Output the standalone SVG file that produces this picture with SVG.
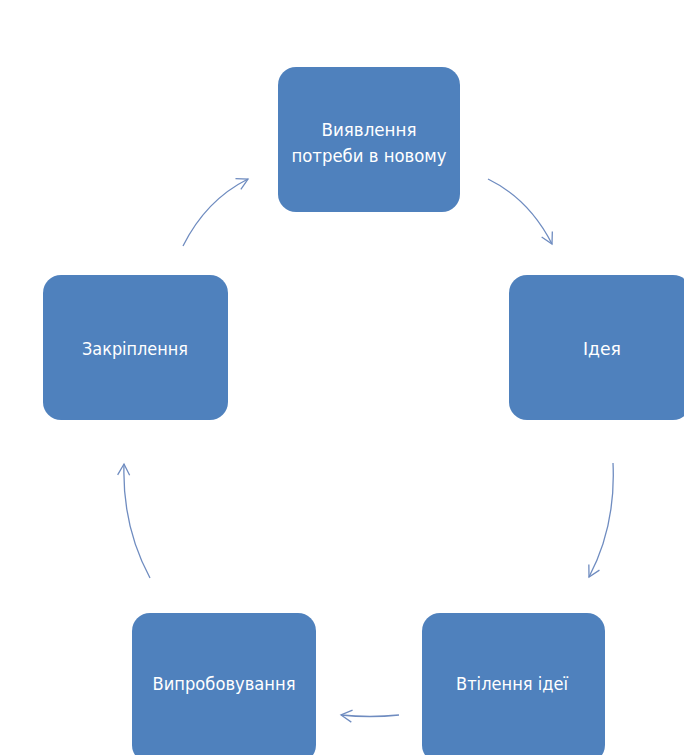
<svg xmlns="http://www.w3.org/2000/svg" width="684" height="755" viewBox="0 0 684 755">
<style>
.box{fill:#4f81bd;}
.lbl{fill:#ffffff;font-family:"Liberation Sans Narrow","DejaVu Sans Condensed","Liberation Sans",sans-serif;font-size:17px;text-anchor:middle;}
.conn{fill:none;stroke:#6f8cc0;stroke-width:1.3;marker-end:url(#arr);}
</style>
<defs>
<marker id="arr" markerWidth="16" markerHeight="16" refX="12" refY="7" orient="auto" markerUnits="userSpaceOnUse">
<path d="M1,1 L12,7 L1,13" fill="none" stroke="#6f8cc0" stroke-width="1.3"/>
</marker>
</defs>
<rect width="684" height="755" fill="#ffffff"/>
<g id="node-vyyavlennya">
<rect class="box" x="278" y="67" width="182" height="145" rx="18"/>
<text class="lbl" x="369" y="136" textLength="95" lengthAdjust="spacingAndGlyphs">Виявлення</text>
<text class="lbl" x="369" y="162" textLength="155" lengthAdjust="spacingAndGlyphs">потреби в новому</text>
</g>
<g id="node-ideya">
<rect class="box" x="509" y="275" width="182" height="145" rx="18"/>
<text class="lbl" x="602" y="355" textLength="38" lengthAdjust="spacingAndGlyphs">Ідея</text>
</g>
<g id="node-vtilennya">
<rect class="box" x="422" y="613" width="183" height="150" rx="18"/>
<text class="lbl" x="512" y="690" textLength="112" lengthAdjust="spacingAndGlyphs">Втілення ідеї</text>
</g>
<g id="node-vyprobuvannya">
<rect class="box" x="132" y="613" width="184" height="150" rx="18"/>
<text class="lbl" x="224" y="690" textLength="143" lengthAdjust="spacingAndGlyphs">Випробовування</text>
</g>
<g id="node-zakriplennya">
<rect class="box" x="43" y="275" width="185" height="145" rx="18"/>
<text class="lbl" x="135" y="355" textLength="106" lengthAdjust="spacingAndGlyphs">Закріплення</text>
</g>
<g id="connectors">
<path class="conn" d="M488,179 Q529,199 552,244"/>
<path class="conn" d="M613,463 Q616,526 589,577"/>
<path class="conn" d="M399,715 Q370,718 341,715"/>
<path class="conn" d="M150,578 Q122,526 124,464"/>
<path class="conn" d="M183,246 Q206,200 248,179"/>
</g>
</svg>
